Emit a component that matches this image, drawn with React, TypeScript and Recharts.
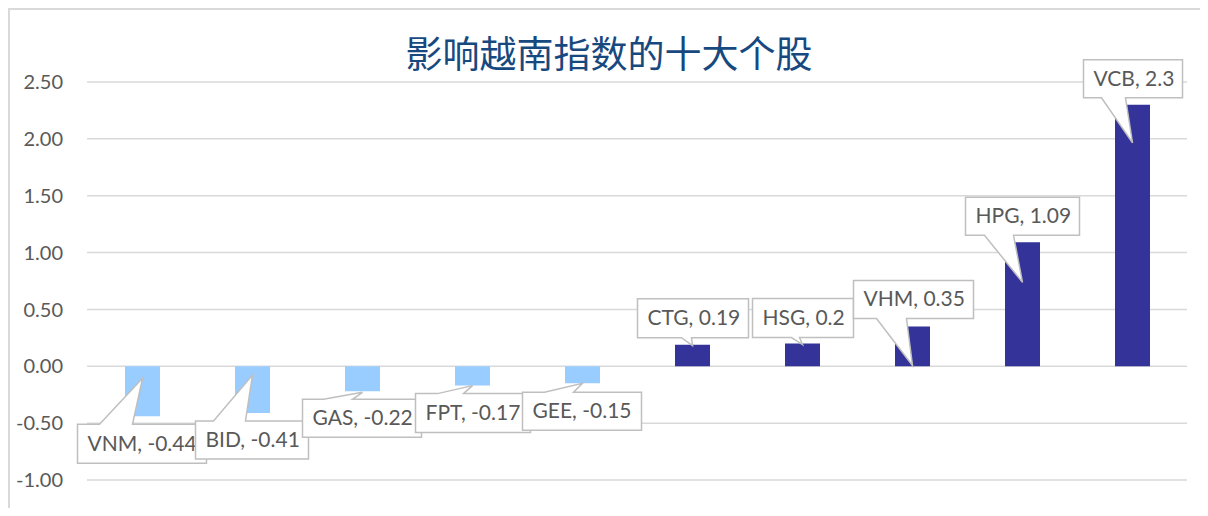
import React from 'react';
import { BarChart, Bar, XAxis, YAxis, CartesianGrid, Cell, LabelList } from 'recharts';

// Stocks and their impact on the VN-Index
const stocks = ['VNM', 'BID', 'GAS', 'FPT', 'GEE', 'CTG', 'HSG', 'VHM', 'HPG', 'VCB'];
const impact = [-0.44, -0.41, -0.22, -0.17, -0.15, 0.19, 0.2, 0.35, 1.09, 2.3];
const yTicks = [-1, -0.5, 0, 0.5, 1, 1.5, 2, 2.5];

const chartData = stocks.map((name, i) => ({ name, value: impact[i] }));

// Callout placement relative to the bar centre / value end
// dx,dy: box top-left; w,h: box size; tdy: tip offset; b1,b2: wedge base x offsets
const callouts = [
  { dx: -65, dy: 8, w: 129, h: 39, tdy: -38, b1: -43, b2: -10 },
  { dx: -57, dy: 8, w: 113, h: 38, tdy: -38, b1: -39, b2: -7 },
  { dx: -60, dy: 8, w: 119, h: 38, tdy: 1, b1: -39, b2: -10 },
  { dx: -57, dy: 8, w: 115, h: 39, tdy: 0, b1: -35, b2: -9 },
  { dx: -60, dy: 9, w: 119, h: 38, tdy: 0, b1: -38, b2: -9 },
  { dx: -55, dy: -46, w: 111, h: 39, tdy: 1, b1: -11, b2: -1 },
  { dx: -50, dy: -45, w: 101, h: 39, tdy: 1, b1: -11, b2: -3 },
  { dx: -59, dy: -46, w: 120, h: 38, tdy: 39, b1: -36, b2: -6 },
  { dx: -57, dy: -45, w: 114, h: 38, tdy: 40, b1: -38, b2: -9 },
  { dx: -49, dy: -45, w: 99, h: 38, tdy: 38, b1: -31, b2: -7 },
];

const NEG = '#99CCFF';
const POS = '#333399';
const FONT = 'Lato, "Noto Sans", sans-serif';

const Callout = (props: any) => {
  const { x, y, width, height, index, value } = props;
  const c = callouts[index];
  if (!c) return null;
  const cx = x + width / 2;
  const top = Math.min(y, y + height);
  const bottom = Math.max(y, y + height);
  const ve = value >= 0 ? top : bottom;
  const L = cx + c.dx;
  const T = ve + c.dy;
  const R = L + c.w;
  const B = T + c.h;
  const tx = cx;
  const ty = ve + c.tdy;
  const above = ty < T;
  const d = above
    ? `M${L},${T} L${cx + c.b1},${T} L${tx},${ty} L${cx + c.b2},${T} L${R},${T} L${R},${B} L${L},${B} Z`
    : `M${L},${T} L${R},${T} L${R},${B} L${cx + c.b2},${B} L${tx},${ty} L${cx + c.b1},${B} L${L},${B} Z`;
  return (
    <g>
      <path d={d} fill="#FFFFFF" stroke="#BFBFBF" strokeWidth={1.5} />
      <text x={L + 10} y={T + c.h / 2 + 7} fill="#595959" fontSize={21} fontFamily={FONT}>
        {`${stocks[index]}, ${value}`}
      </text>
    </g>
  );
};

export default function App() {
  return (
    <div
      style={{
        position: 'relative',
        width: 1198,
        height: 498,
        borderLeft: '2px solid #D9D9D9',
        borderTop: '2px solid #D9D9D9',
        background: '#FFFFFF',
      }}
    >
      <style>{'body{overflow:hidden}'}</style>
      <div
        style={{
          position: 'absolute',
          left: 0,
          top: 24,
          width: 1198,
          textAlign: 'center',
          fontFamily: '"Noto Sans CJK SC", sans-serif',
          fontSize: 37,
          lineHeight: '37px',
          color: '#17497F',
        }}
      >
        影响越南指数的十大个股
      </div>
      <BarChart
        width={1198}
        height={498}
        data={chartData}
        margin={{ top: 72, right: 21, bottom: 28, left: 0 }}
      >
        <CartesianGrid vertical={false} stroke="#D9D9D9" strokeWidth={1.5} />
        <XAxis dataKey="name" hide />
        <YAxis
          width={77}
          domain={[-1, 2.5]}
          ticks={yTicks}
          interval={0}
          axisLine={false}
          tickLine={false}
          tickSize={0}
          tickMargin={24}
          tickFormatter={(v: number) => v.toFixed(2)}
          tick={{ fill: '#595959', fontSize: 20, fontFamily: FONT }}
        />
        <Bar dataKey="value" barSize={35} isAnimationActive={false}>
          {chartData.map((d, i) => (
            <Cell key={i} fill={d.value < 0 ? NEG : POS} />
          ))}
          <LabelList dataKey="value" content={<Callout />} />
        </Bar>
      </BarChart>
    </div>
  );
}
